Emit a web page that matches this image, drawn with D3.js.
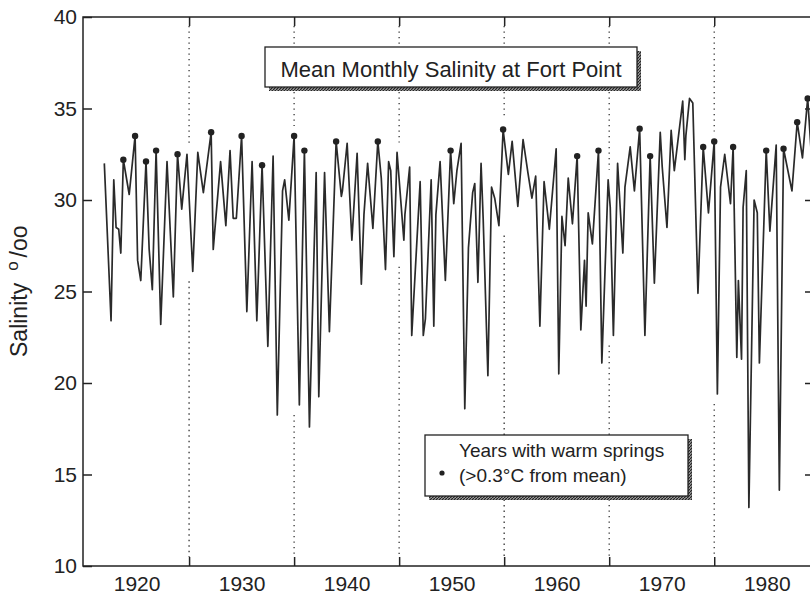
<!DOCTYPE html>
<html>
<head>
<title>Mean Monthly Salinity at Fort Point</title>
<style>
    body { margin: 0; background: white; }
    text { font-family: "Liberation Sans", Arial, Helvetica, sans-serif; fill: #222; }
    .frame { fill: none; stroke: #222; stroke-width: 1.5px; }
    .salinity { fill: none; stroke: #2a2a2a; stroke-width: 1.7px; stroke-linejoin: round; }
    .grid { stroke: #333; stroke-width: 1.3px; stroke-dasharray: 1.3 4.2; }
</style>
<script src="https://d3js.org/d3.v7.min.js"></script>
</head>
<body>
<svg id="chart" width="810" height="597"></svg>
<script>
// monthly salinity (peaks / troughs), decimal years
var years = [1916.93, 1917.57, 1917.83, 1918.05, 1918.3, 1918.5, 1918.74, 1919.3, 1919.86, 1920.1,
    1920.4, 1920.9, 1921.2, 1921.5, 1921.86, 1922.3, 1922.9, 1923.5, 1923.9, 1924.3,
    1924.8, 1925.35, 1925.83, 1926.36, 1927.1, 1927.3, 1927.4, 1928.0, 1928.5, 1928.9,
    1929.2, 1929.5, 1930.0, 1930.5, 1931.0, 1931.45, 1931.95, 1932.5, 1933.0, 1933.4,
    1933.9, 1934.1, 1934.5, 1935.0, 1935.5, 1935.98, 1936.46, 1937.1, 1937.35, 1937.9,
    1938.36, 1939.0, 1939.5, 1939.6, 1940.05, 1940.5, 1941.0, 1941.4, 1941.65, 1942.0,
    1942.5, 1942.97, 1943.3, 1943.7, 1944.0, 1944.2, 1944.5, 1944.8, 1945.45, 1945.55,
    1946.0, 1946.2, 1947.0, 1947.3, 1947.5, 1948.05, 1948.3, 1948.5, 1948.9, 1949.4,
    1949.9, 1950.2, 1950.5, 1950.9, 1951.25, 1951.6, 1952.0, 1952.2, 1952.5, 1952.8,
    1953.0, 1953.45, 1953.8, 1954.1, 1954.5, 1954.9, 1955.4, 1955.76, 1956.3, 1956.8,
    1957.26, 1957.64, 1958.0, 1958.4, 1958.8, 1959.3, 1959.95, 1960.2, 1960.5, 1960.8,
    1961.1, 1961.5, 1961.95, 1962.3, 1962.65, 1962.8, 1963.0, 1963.4, 1963.98, 1964.3,
    1964.9, 1965.1, 1965.4, 1965.8, 1966.3, 1966.5, 1967.0, 1967.4, 1967.9, 1968.4,
    1968.9, 1969.3, 1969.86, 1970.05, 1970.5, 1970.9, 1971.2, 1972.0, 1972.2, 1972.3,
    1972.65, 1972.96, 1973.45, 1973.95, 1974.45, 1975.0, 1975.3, 1975.6, 1976.0, 1976.55,
    1976.8, 1977.15, 1977.3, 1977.6, 1977.75, 1978.05, 1978.3, 1978.8, 1979.1, 1979.3,
    1979.95, 1980.3, 1980.9, 1981.2, 1981.6, 1982.4, 1982.9, 1983.4, 1983.9, 1984.2,
    1984.5];
var salinity = [32.0, 23.4, 31.1, 28.5, 28.4, 27.1, 32.2, 30.3, 33.5, 26.7,
    25.6, 32.1, 27.3, 25.1, 32.7, 23.2, 32.1, 24.7, 32.5, 29.5,
    32.5, 26.1, 32.6, 30.4, 33.7, 27.3, 28.0, 32.1, 28.6, 32.7,
    29.0, 29.0, 33.5, 23.9, 32.1, 23.4, 31.9, 22.0, 32.4, 18.25,
    30.5, 31.1, 28.9, 33.5, 18.8, 32.7, 17.6, 31.5, 19.25, 31.5,
    22.8, 33.2, 30.2, 30.5, 33.1, 27.8, 32.55, 25.4, 29.2, 32.0,
    28.45, 33.2, 31.2, 26.2, 32.1, 31.6, 26.9, 32.6, 27.8, 29.2,
    31.8, 22.6, 31.0, 22.6, 23.5, 31.1, 23.1, 29.2, 32.1, 25.6,
    32.7, 29.8, 31.6, 33.1, 18.6, 27.4, 30.4, 30.9, 25.5, 32.0,
    29.0, 20.4, 30.7, 30.1, 28.6, 33.85, 31.4, 33.2, 29.65, 33.3,
    31.5, 30.1, 31.3, 23.1, 31.0, 28.4, 32.8, 20.5, 29.1, 27.5,
    31.2, 28.7, 32.4, 22.9, 26.7, 24.2, 29.3, 27.6, 32.7, 21.1,
    31.1, 29.6, 22.6, 32.0, 27.1, 30.7, 32.9, 30.5, 33.9, 22.6,
    32.4, 25.45, 33.7, 31.8, 28.5, 33.8, 31.6, 35.4, 32.2, 33.5,
    35.55, 35.3, 24.9, 32.9, 29.3, 33.2, 19.4, 30.7, 32.5, 29.8,
    32.9, 21.4, 25.6, 21.3, 29.6, 31.6, 13.2, 30.0, 29.3, 21.1,
    32.7, 28.3, 33.0, 14.15, 32.8, 30.5, 34.25, 32.3, 35.55, 32.9,
    30.5];

// years with warm springs (>0.3 C from mean), marked on the series
var warmYears = [1918.74, 1919.86, 1920.9, 1921.86, 1923.9, 1927.1, 1930.0, 1931.95, 1935.0, 1935.98,
    1939.0, 1942.97, 1949.9, 1954.9, 1961.95, 1963.98, 1967.9, 1968.9, 1973.95, 1975.0,
    1976.8, 1979.95, 1981.6, 1982.9, 1983.9];
var warmSalinity = [32.2, 33.5, 32.1, 32.7, 32.5, 33.7, 33.5, 31.9, 33.5, 32.7,
    33.2, 33.2, 32.7, 33.85, 32.4, 32.7, 33.9, 32.4, 32.9, 33.2,
    32.9, 32.7, 32.8, 34.25, 35.55];

var yTicks = [10, 15, 20, 25, 30, 35, 40];
var decadeLabels = [1920, 1930, 1940, 1950, 1960, 1970, 1980];
var midDecades = [1925, 1935, 1945, 1955, 1965, 1975];

var svg = d3.select("#chart");
var plotL = 83, plotR = 814, plotT = 17, plotB = 566;

var x = d3.scaleLinear().domain([1914.9, 1984.5]).range([plotL, plotR]);
var y = d3.scaleLinear().domain([10, 40]).range([plotB, plotT]);

// hatched shadow for the boxes
var pat = svg.append("defs").append("pattern")
    .attr("id", "hatch").attr("patternUnits", "userSpaceOnUse")
    .attr("width", 3).attr("height", 3);
pat.append("rect").attr("width", 3).attr("height", 3).attr("fill", "#999");
pat.append("path").attr("d", "M0,3 L3,0").attr("stroke", "#222").attr("stroke-width", 1.2);

svg.append("clipPath").attr("id", "plotclip").append("rect")
    .attr("x", plotL).attr("y", plotT).attr("width", plotR - plotL).attr("height", plotB - plotT);

var data = years.map(function (t, i) { return {t: t, v: salinity[i]}; });

// dotted year lines, hidden where the series band is
midDecades.forEach(function (yr) {
    var near = data.filter(function (d) { return Math.abs(d.t - yr) <= 0.5; });
    var hi = d3.max(near, function (d) { return d.v; });
    var lo = d3.min(near, function (d) { return d.v; });
    var g = svg.append("g").attr("class", "gridline");
    g.append("line").attr("class", "grid")
        .attr("x1", x(yr)).attr("x2", x(yr)).attr("y1", plotT + 9).attr("y2", y(hi) - 10);
    g.append("line").attr("class", "grid")
        .attr("x1", x(yr)).attr("x2", x(yr)).attr("y1", y(lo) + 10).attr("y2", plotB - 9);
});

// axes
var bottomTicks = svg.append("g")
    .attr("transform", "translate(0," + plotB + ")")
    .call(d3.axisBottom(x).tickValues(midDecades).tickSizeInner(-9).tickSizeOuter(0).tickFormat(""));
var topTicks = svg.append("g")
    .attr("transform", "translate(0," + plotT + ")")
    .call(d3.axisTop(x).tickValues(midDecades).tickSizeInner(-9).tickSizeOuter(0).tickFormat(""));
var bottomLabels = svg.append("g")
    .attr("transform", "translate(0," + plotB + ")")
    .call(d3.axisBottom(x).tickValues(decadeLabels).tickSize(0).tickPadding(10).tickFormat(d3.format("d")));
var leftAxis = svg.append("g")
    .attr("transform", "translate(" + plotL + ",0)")
    .call(d3.axisLeft(y).tickValues(yTicks).tickSizeInner(-9).tickSizeOuter(0).tickPadding(6));
var rightAxis = svg.append("g")
    .attr("transform", "translate(" + plotR + ",0)")
    .call(d3.axisRight(y).tickValues(yTicks.slice(1, -1)).tickSizeInner(-9).tickSizeOuter(0).tickFormat(""));

[bottomTicks, topTicks, bottomLabels, leftAxis, rightAxis].forEach(function (a) {
    a.select(".domain").remove();
    a.selectAll("line").attr("stroke", "#222").attr("stroke-width", 1.5);
    a.selectAll("text").attr("fill", "#222").style("font-size", "21px")
        .style("font-family", "'Liberation Sans', Arial, sans-serif");
});

svg.append("rect").attr("class", "frame")
    .attr("x", plotL).attr("y", plotT).attr("width", plotR - plotL).attr("height", plotB - plotT);

// the series
var line = d3.line().x(function (d) { return x(d.t); }).y(function (d) { return y(d.v); });
svg.append("path").datum(data).attr("class", "salinity")
    .attr("clip-path", "url(#plotclip)").attr("d", line);

svg.append("g").selectAll("circle")
    .data(warmYears)
    .join("circle")
    .attr("cx", function (d) { return x(d); })
    .attr("cy", function (d, i) { return y(warmSalinity[i]); })
    .attr("r", 3.2)
    .attr("fill", "#222");

// y axis title
var ylab = svg.append("text")
    .attr("transform", "translate(27,357) rotate(-90)")
    .style("font-size", "23px");
ylab.append("tspan").text("Salinity");
ylab.append("tspan").attr("dx", 12).attr("dy", -9).style("font-size", "17px").text("o");
ylab.append("tspan").attr("dx", 4).attr("dy", 9).text("/oo");

// title box
svg.append("rect").attr("x", 269).attr("y", 51).attr("width", 372).attr("height", 40).attr("fill", "url(#hatch)");
svg.append("rect").attr("x", 265).attr("y", 47).attr("width", 372).attr("height", 40)
    .attr("fill", "white").attr("stroke", "#222").attr("stroke-width", 1.3);
svg.append("text").attr("x", 451).attr("y", 77).attr("text-anchor", "middle")
    .style("font-size", "22px").text("Mean Monthly Salinity at Fort Point");

// legend box
svg.append("rect").attr("x", 429).attr("y", 439).attr("width", 263).attr("height", 61).attr("fill", "url(#hatch)");
svg.append("rect").attr("x", 425).attr("y", 435).attr("width", 263).attr("height", 61)
    .attr("fill", "white").attr("stroke", "#222").attr("stroke-width", 1.3);
svg.append("circle").attr("cx", 442).attr("cy", 473).attr("r", 2.6).attr("fill", "#222");
svg.append("text").attr("x", 459).attr("y", 457).style("font-size", "19px").text("Years with warm springs");
svg.append("text").attr("x", 459).attr("y", 482).style("font-size", "19px").text("(>0.3°C from mean)");
</script>
</body>
</html>
